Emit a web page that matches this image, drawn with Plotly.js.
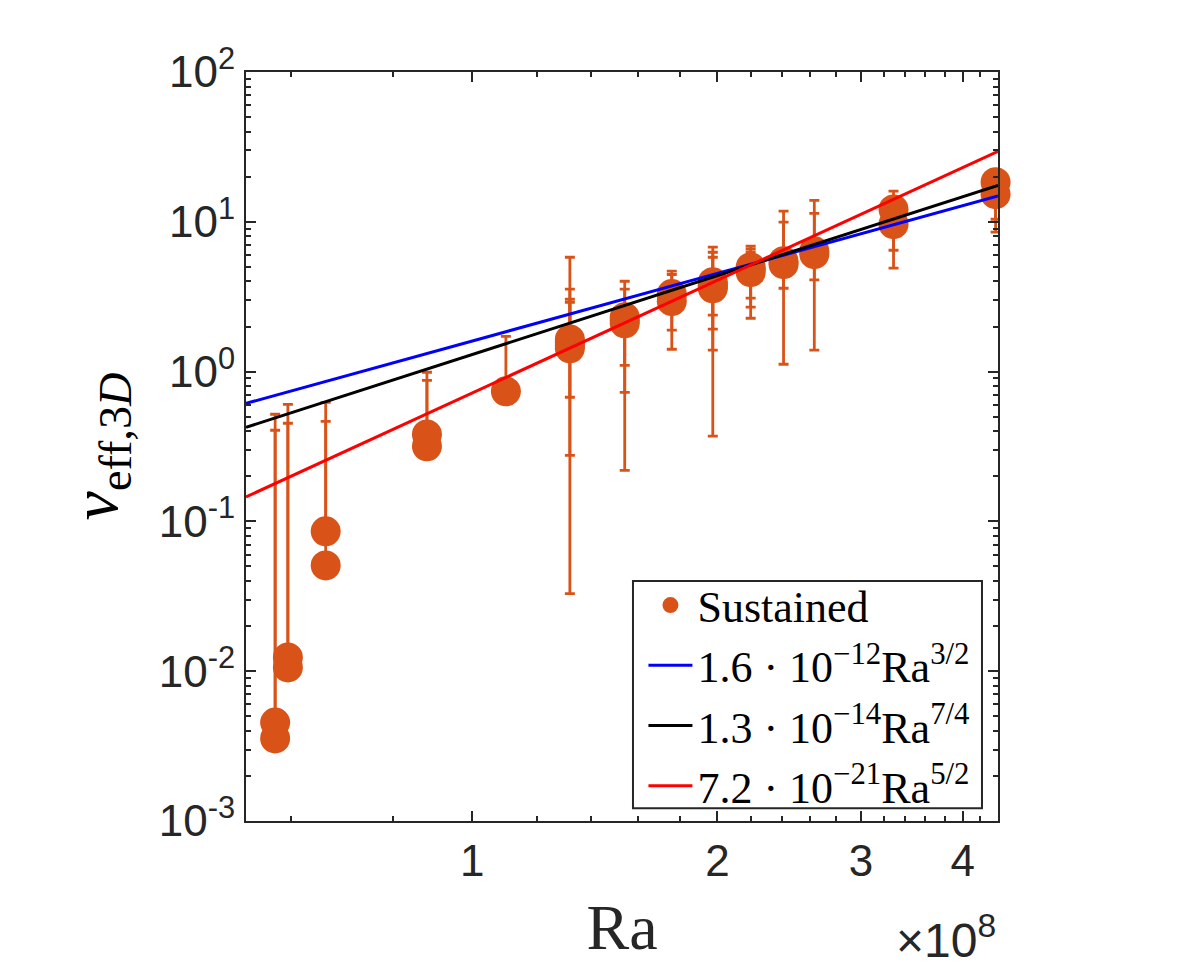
<!DOCTYPE html>
<html>
<head>
<meta charset="utf-8">
<script src="https://cdn.plot.ly/plotly-3.0.1.min.js"></script>
<style>html,body{margin:0;padding:0;background:#fff;}</style>
</head>
<body>
<div id="chart" style="width:1196px;height:974px;"></div>
<script>
// Rayleigh number (x 1e8) for each sustained run
const raValues = [0.573,0.573, 0.594,0.594, 0.661,0.661, 0.880,0.880, 1.10,
  1.318,1.318,1.318,1.318, 1.539,1.539,1.539, 1.758,1.758,
  1.974,1.974,1.974,1.974, 2.197,2.197,2.197, 2.411,2.411, 2.630,2.630,
  3.29,3.29, 4.39,4.39];
// effective viscosity nu_eff,3D
const nuValues = [0.00454,0.00356, 0.01235,0.01059, 0.0858,0.0508, 0.381,0.317, 0.738,
  1.64,1.57,1.50,1.43, 2.31,2.20,2.10, 3.29,2.95,
  3.95,3.77,3.60,3.70, 4.98,4.80,4.61, 5.46,5.21, 6.37,6.08,
  12.1,9.64, 18.4,15.3];
// upper end of each error bar
const nuUpper = [0.519,0.406, 0.605,0.452, 0.624,0.466, 0.99,0.875, 1.72,
  5.80,3.55,3.04,2.90, 4.01,3.55,2.60, 4.68,4.45,
  6.77,6.26,5.80,4.60, 6.87,6.60,6.30, 11.8,9.95, 13.9,11.4,
  16.0,14.5, 22.0,19.0];
// lower end of each error bar
const nuLower = [0.00454,0.00356, 0.01235,0.01059, 0.0858,0.0508, 0.381,0.317, 0.738,
  0.674,0.033,0.276,1.30, 0.727,0.219,1.10, 1.89,1.41,
  1.92,0.371,2.38,1.39, 3.09,2.27,2.69, 1.12,3.60, 1.39,4.10,
  6.46,4.90, 10.4,8.53];
// power-law fits: coefficient * Ra^exponent
const fitNames = ['1.6 · 10<sup>−12</sup>Ra<sup>3/2</sup>',
                  '1.3 · 10<sup>−14</sup>Ra<sup>7/4</sup>',
                  '7.2 · 10<sup>−21</sup>Ra<sup>5/2</sup>'];
const fitCoef = [1.6e-12, 1.3e-14, 7.2e-21];
const fitExp = [1.5, 1.75, 2.5];
const fitColors = ['#0000ff', '#000000', '#ff0000'];
const fitRange = [0.5277e8, 4.42e8];
// axis ticks
const xTickVals = [1, 2, 3, 4];
const xTickText = ['1', '2', '3', '4'];
const xMinorVals = [0.6,0.8,1.2,1.4,1.6,1.8,2.2,2.4,2.6,2.8,3.2,3.4,3.6,3.8,4.2];
const yTickExp = [-3, -2, -1, 0, 1, 2];

const orange = '#D95319';
const axisCol = '#262626';

const ra = raValues.map(v => v * 1e8);
const traces = [{
  x: ra, y: nuValues, type: 'scatter', mode: 'markers', name: 'Sustained',
  cliponaxis: false,
  marker: {color: orange, size: 30},
  error_y: {type: 'data', symmetric: false,
    array: nuUpper.map((u, i) => u - nuValues[i]),
    arrayminus: nuLower.map((l, i) => nuValues[i] - l),
    color: orange, thickness: 2.8, width: 5}
}];
fitNames.forEach((n, k) => {
  traces.push({
    x: fitRange, y: fitRange.map(r => fitCoef[k] * Math.pow(r, fitExp[k])),
    type: 'scatter', mode: 'lines', name: n,
    line: {color: fitColors[k], width: 3}
  });
});

const layout = {
  width: 1196, height: 974,
  paper_bgcolor: '#ffffff', plot_bgcolor: '#ffffff',
  margin: {l: 246, r: 198, t: 72, b: 153},
  font: {family: 'Liberation Sans, Arial, sans-serif', color: axisCol, size: 44},
  showlegend: true,
  legend: {
    x: 0.970, y: 0.0, xanchor: 'right', yanchor: 'bottom',
    bgcolor: 'rgba(0,0,0,0)', borderwidth: 0,
    font: {family: 'Liberation Serif, Times New Roman, serif', size: 44, color: '#000'},
    itemwidth: 44, tracegroupgap: 0
  },
  shapes: [{
    type: 'rect', xref: 'paper', yref: 'paper',
    x0: 0.5146, x1: 0.9787, y0: 0.017, y1: 0.3203,
    fillcolor: '#ffffff', line: {color: axisCol, width: 2}, layer: 'above'
  }],
  xaxis: {
    type: 'log', range: [Math.log10(fitRange[0]), Math.log10(fitRange[1])],
    tickmode: 'array', tickvals: xTickVals.map(v => v * 1e8), ticktext: xTickText,
    ticks: 'inside', ticklen: 10, tickwidth: 2, tickcolor: axisCol,
    showline: true, linecolor: axisCol, linewidth: 2, mirror: 'allticks',
    showgrid: false, zeroline: false,
    tickfont: {size: 44, family: 'Liberation Sans, Arial, sans-serif', color: axisCol},
    minor: {tickmode: 'array', tickvals: xMinorVals.map(v => v * 1e8), ticks: 'inside', ticklen: 5, tickwidth: 2, tickcolor: axisCol, showgrid: false},
    title: {text: 'Ra', standoff: 20, font: {family: 'Liberation Serif, Times New Roman, serif', size: 64, color: axisCol}}
  },
  yaxis: {
    type: 'log', range: [-3, 2],
    tickmode: 'array', tickvals: yTickExp.map(e => Math.pow(10, e)),
    ticktext: yTickExp.map(e => '10<sup>' + e + '</sup>'),
    ticks: 'inside', ticklen: 10, tickwidth: 2, tickcolor: axisCol,
    showline: true, linecolor: axisCol, linewidth: 2, mirror: 'allticks',
    showgrid: false, zeroline: false,
    tickfont: {size: 44, family: 'Liberation Sans, Arial, sans-serif', color: axisCol},
    minor: {dtick: 'D1', ticks: 'inside', ticklen: 5, tickwidth: 2, tickcolor: axisCol, showgrid: false},
    title: {text: '<i>ν</i><sub>eff,3<i>D</i></sub>', standoff: 20, font: {family: 'Liberation Serif, Times New Roman, serif', size: 66, color: '#000'}}
  },
  annotations: [{
    xref: 'paper', yref: 'paper', x: 1.0, y: -0.155, xanchor: 'right', yanchor: 'middle',
    text: '×10<sup>8</sup>', showarrow: false,
    font: {family: 'Liberation Sans, Arial, sans-serif', size: 48, color: axisCol}
  }]
};

Plotly.newPlot('chart', traces, layout, {displayModeBar: false, staticPlot: true});
</script>
</body>
</html>
